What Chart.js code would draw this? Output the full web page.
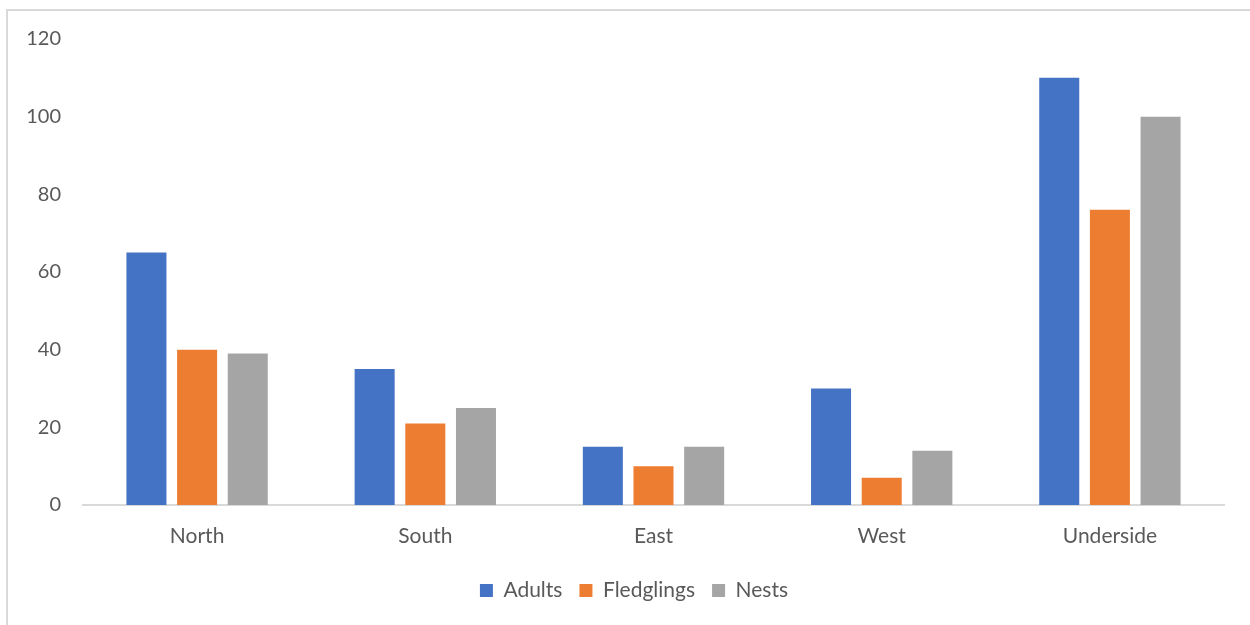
<!DOCTYPE html>
<html>
<head>
<meta charset="utf-8">
<script src="https://cdn.jsdelivr.net/npm/chart.js@4.4.1/dist/chart.umd.min.js"></script>
<style>
  html, body { margin: 0; padding: 0; background: #fff; overflow: hidden; }
  #frame { position: absolute; left: 6px; top: 9px; width: 1400px; height: 800px;
           border-top: 2px solid #d9d9d9; border-left: 2px solid #d9d9d9; }
  #wrap { position: absolute; left: 0; top: 0; width: 1250px; height: 625px; }
</style>
</head>
<body>
<div id="frame"></div>
<div id="wrap"><canvas id="birdChart" width="1250" height="625"></canvas></div>
<script>
// colony counts by side
const categories = ['North', 'South', 'East', 'West', 'Underside'];
const adults     = [65, 35, 15, 30, 110];
const fledglings = [40, 21, 10, 7, 76];
const nests      = [39, 25, 15, 14, 100];

const textColor = '#595959';
const lineColor = '#d9d9d9';
Chart.defaults.font.family = "Lato, 'Open Sans', sans-serif";

// pin legend height, then nudge it right/down a bit like the original
const legendTweak = {
  id: 'legendTweak',
  beforeInit(chart) {
    const origFit = chart.legend.fit;
    chart.legend.fit = function () {
      origFit.bind(chart.legend)();
      this.height = 65;
    };
  },
  afterLayout(chart) {
    const lg = chart.legend;
    lg.left += 22; lg.right += 22;
    lg.top += 3;   lg.bottom += 3;
  }
};

new Chart(document.getElementById('birdChart'), {
  type: 'bar',
  data: {
    labels: categories,
    datasets: [
      { label: 'Adults',     data: adults,     backgroundColor: '#4472C4' },
      { label: 'Fledglings', data: fledglings, backgroundColor: '#ED7D31' },
      { label: 'Nests',      data: nests,      backgroundColor: '#A5A5A5' },
    ]
  },
  options: {
    responsive: false,
    animation: false,
    layout: { padding: { left: 0, right: 26, top: 39, bottom: 0 } },
    datasets: { bar: { categoryPercentage: 0.666, barPercentage: 0.79 } },
    plugins: {
      legend: {
        position: 'bottom',
        labels: { color: textColor, font: { size: 21 }, boxWidth: 13, boxHeight: 13, padding: 17 }
      },
      tooltip: { enabled: false }
    },
    scales: {
      x: {
        grid: { display: false, drawTicks: false },
        border: { display: true, color: lineColor, width: 2 },
        ticks: { color: textColor, font: { size: 21 }, padding: 19 },
        afterFit: s => { s.height = 55; }
      },
      y: {
        min: 0, max: 120,
        grid: { display: false, drawTicks: false },
        border: { display: false },
        ticks: { stepSize: 20, color: textColor, font: { size: 20 }, padding: 22 },
        afterFit: s => { s.width = 83; }
      }
    }
  },
  plugins: [legendTweak]
});
</script>
</body>
</html>
